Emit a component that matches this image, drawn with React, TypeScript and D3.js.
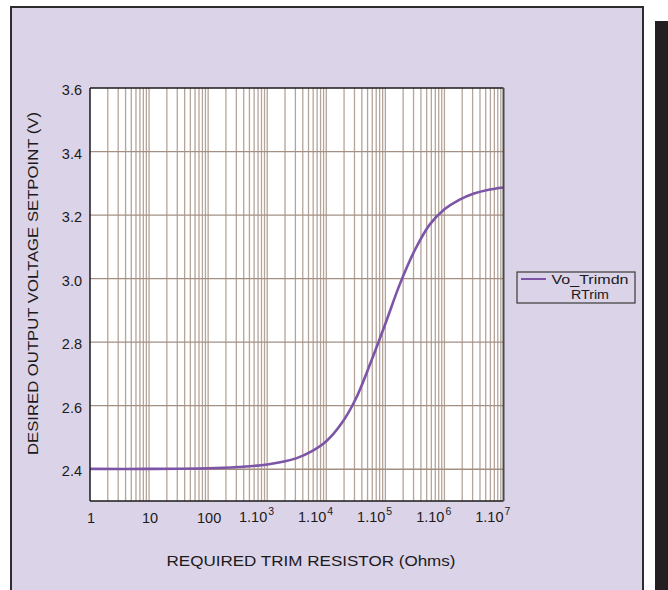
import * as d3 from 'd3';
import React from 'react';

// trim resistor (ohms) vs. output voltage
const rTrim = [1, 10, 100, 316, 1e3, 3.16e3, 5.62e3, 1e4, 1.78e4, 3.16e4, 5.62e4, 1e5, 1.78e5, 3.16e5, 5.62e5, 1e6, 1.78e6, 3.16e6, 5.62e6, 1e7];
const voTrimdn = [2.401, 2.401, 2.403, 2.407, 2.415, 2.435, 2.456, 2.488, 2.542, 2.622, 2.735, 2.858, 2.985, 3.09, 3.17, 3.218, 3.248, 3.268, 3.28, 3.287];

const yTicks = [2.4, 2.6, 2.8, 3.0, 3.2, 3.4, 3.6];
const yGrid = [2.4, 2.6, 2.8, 3.0, 3.2, 3.4];
const xTickLabels = [
  { v: 1, base: '1', exp: '' },
  { v: 10, base: '10', exp: '' },
  { v: 100, base: '100', exp: '' },
  { v: 1e3, base: '1.10', exp: '3' },
  { v: 1e4, base: '1.10', exp: '4' },
  { v: 1e5, base: '1.10', exp: '5' },
  { v: 1e6, base: '1.10', exp: '6' },
  { v: 1e7, base: '1.10', exp: '7' },
];
const seriesName = 'Vo_Trimdn';
const seriesSub = 'RTrim';
const xTitle = 'REQUIRED TRIM RESISTOR (Ohms)';
const yTitle = 'DESIRED OUTPUT VOLTAGE SETPOINT (V)';

const W = 668;
const H = 590;
const plot = { left: 90, right: 503.5, top: 88, bottom: 501 };
const font = 'Arial, "Liberation Sans", Helvetica, sans-serif';
const purple = '#7c55a6';
const ink = '#1c1a1b';

export default function App() {
  const x = d3.scaleLog().domain([1, 1e7]).range([plot.left, plot.right]);
  const y = d3.scaleLinear().domain([2.3, 3.6]).range([plot.bottom, plot.top]);

  // minor + decade grid lines for the log axis
  const vLines: number[] = [];
  for (let d = 0; d < 7; d++) {
    for (let k = 1; k < 10; k++) {
      const v = k * Math.pow(10, d);
      if (v > 1 && v < 1e7) vLines.push(v);
    }
  }

  const line = d3.line<number>()
    .x((_, i) => x(rTrim[i]))
    .y(d => y(d))
    .curve(d3.curveCatmullRom.alpha(0.5));

  return (
    <svg width={W} height={H} style={{ position: 'absolute', left: 0, top: 0 }} fontFamily={font}>
      <rect x={0} y={0} width={W} height={H} fill="#ffffff" />
      <rect x={11} y={7} width={632} height={620} fill="#dbd3e7" stroke="#2e2c2e" strokeWidth={2} />
      <rect x={655} y={21} width={13} height={H} fill="#231f20" />

      <rect x={plot.left} y={plot.top} width={plot.right - plot.left} height={plot.bottom - plot.top} fill="#ffffff" />

      {vLines.map(v => (
        <line key={'v' + v} x1={x(v)} x2={x(v)} y1={plot.top} y2={plot.bottom} stroke="#b5a499" strokeWidth={1.3} />
      ))}
      {yGrid.map(v => (
        <line key={'h' + v} x1={plot.left} x2={plot.right} y1={y(v)} y2={y(v)} stroke="#a48f83" strokeWidth={1.3} />
      ))}

      <path d={line(voTrimdn) || ''} fill="none" stroke={purple} strokeWidth={2.6} />

      {/* frame */}
      <line x1={plot.left} x2={plot.right} y1={plot.top} y2={plot.top} stroke="#1a1a1a" strokeWidth={1.5} />
      <line x1={plot.left} x2={plot.left} y1={plot.top} y2={plot.bottom} stroke="#1a1a1a" strokeWidth={1.5} />
      <line x1={plot.left} x2={plot.right} y1={plot.bottom} y2={plot.bottom} stroke="#1a1a1a" strokeWidth={1.5} />
      <line x1={plot.right} x2={plot.right} y1={plot.top} y2={plot.bottom} stroke="#4a4a4a" strokeWidth={2} />

      {yTicks.map(v => (
        <text key={'yt' + v} x={82} y={y(v) + 7} textAnchor="end" fontSize={14.5} fill={ink}>
          {v.toFixed(1)}
        </text>
      ))}

      {xTickLabels.map(t => t.exp ? (
        <g key={'xt' + t.v}>
          <text x={x(t.v)} y={522} textAnchor="end" fontSize={14.5} fill={ink}>{t.base}</text>
          <text x={x(t.v) + 1} y={515} textAnchor="start" fontSize={10.5} fill={ink}>{t.exp}</text>
        </g>
      ) : (
        <text key={'xt' + t.v} x={x(t.v) + 1} y={523} textAnchor="middle" fontSize={14.5} fill={ink}>{t.base}</text>
      ))}

      <text x={311} y={566} textAnchor="middle" fontSize={14.5} textLength={289} lengthAdjust="spacingAndGlyphs" fill={ink}>
        {xTitle}
      </text>
      <text transform="translate(38,283.5) rotate(-90)" textAnchor="middle" fontSize={14.5} textLength={343} lengthAdjust="spacingAndGlyphs" fill={ink}>
        {yTitle}
      </text>

      {/* legend */}
      <rect x={517} y={272} width={118} height={31} fill="none" stroke="#3a3a3a" strokeWidth={1.2} />
      <line x1={521} x2={546} y1={279} y2={279} stroke={purple} strokeWidth={2} />
      <text x={551.5} y={284} fontSize={12.5} textLength={77} lengthAdjust="spacingAndGlyphs" fill={ink}>{seriesName}</text>
      <text x={571} y={299} fontSize={12.5} textLength={38} lengthAdjust="spacingAndGlyphs" fill={ink}>{seriesSub}</text>
    </svg>
  );
}
